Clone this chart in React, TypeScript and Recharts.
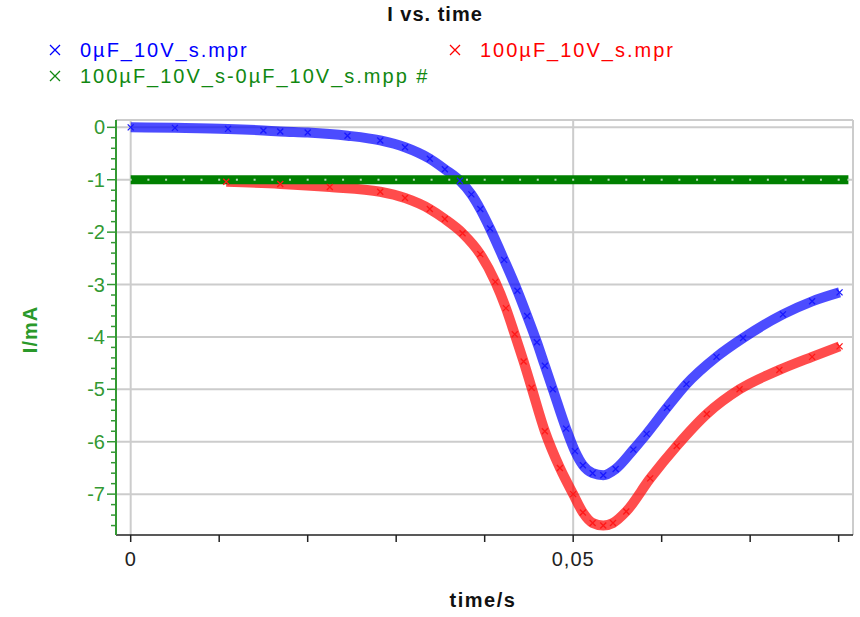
import React from 'react'
import { LineChart, Line, XAxis, YAxis, ReferenceLine } from 'recharts'

// time/s, I/mA
const blueSeries: [number, number][] = [
  [0, 0.0], [0.005, -0.01], [0.011, -0.03], [0.015, -0.06], [0.0169, -0.08], [0.02, -0.1],
  [0.0245, -0.16], [0.0282, -0.25], [0.031, -0.38], [0.0338, -0.6], [0.0355, -0.8],
  [0.0372, -1.02], [0.0385, -1.28], [0.0395, -1.56], [0.0406, -1.93], [0.0422, -2.53],
  [0.0437, -3.12], [0.0448, -3.6], [0.0459, -4.1], [0.0468, -4.55], [0.0477, -5.0],
  [0.0492, -5.75], [0.0502, -6.18], [0.0511, -6.45], [0.0522, -6.6], [0.0534, -6.64],
  [0.0548, -6.52], [0.0568, -6.15], [0.0583, -5.85], [0.0606, -5.35], [0.0628, -4.9],
  [0.0662, -4.38], [0.0692, -4.02], [0.0737, -3.57], [0.077, -3.32], [0.0801, -3.15],
]

const redSeries: [number, number][] = [
  [0.0108, -1.04], [0.0169, -1.08], [0.0225, -1.14], [0.0282, -1.23], [0.031, -1.35],
  [0.0338, -1.56], [0.0355, -1.75], [0.0375, -2.02], [0.0395, -2.42], [0.0412, -2.95],
  [0.0424, -3.45], [0.0434, -3.95], [0.0444, -4.47], [0.0453, -4.97], [0.0468, -5.8],
  [0.0485, -6.5], [0.05, -7.0], [0.0511, -7.35], [0.0522, -7.55], [0.0534, -7.6],
  [0.0545, -7.55], [0.056, -7.33], [0.0587, -6.7], [0.0617, -6.08], [0.0651, -5.47],
  [0.0688, -5.0], [0.0733, -4.63], [0.077, -4.38], [0.0801, -4.18],
]

const diffSeries: [number, number][] = [
  [0, -1], [0.002, -1], [0.004, -1], [0.006, -1], [0.008, -1], [0.01, -1], [0.012, -1],
  [0.014, -1], [0.016, -1], [0.018, -1], [0.02, -1], [0.022, -1], [0.024, -1], [0.026, -1],
  [0.028, -1], [0.03, -1], [0.032, -1], [0.034, -1], [0.036, -1], [0.038, -1], [0.04, -1],
  [0.042, -1], [0.044, -1], [0.046, -1], [0.048, -1], [0.05, -1], [0.052, -1], [0.054, -1],
  [0.056, -1], [0.058, -1], [0.06, -1], [0.062, -1], [0.064, -1], [0.066, -1], [0.068, -1],
  [0.07, -1], [0.072, -1], [0.074, -1], [0.076, -1], [0.078, -1], [0.08, -1], [0.0811, -1],
]

const timeTicks = [0, 0.01, 0.02, 0.03, 0.04, 0.05, 0.06, 0.07, 0.08]
const timeLabels: Record<string, string> = { '0': '0', '0.05': '0,05' }
const currentGrid = [0, -1, -2, -3, -4, -5, -6, -7]
const currentTicks = Array.from({ length: 39 }, (_, i) => -Math.round(i * 2) / 10)

const X_DOMAIN: [number, number] = [-0.00166, 0.08162]
const Y_DOMAIN: [number, number] = [-7.78, 0.14]

const FONT = '"Liberation Sans", Arial, sans-serif'
const GRID = '#cccccc'
const AXIS_GREEN = '#339933'

const rows = (pts: [number, number][]) => pts.map(([t, v]) => ({ t, v }))

const crossDot = (color: string, r: number) => (p: any) => {
  const { cx, cy, index } = p
  if (cx == null || cy == null) return <g key={index} />
  return (
    <path
      key={index}
      d={`M${cx - r},${cy - r}L${cx + r},${cy + r}M${cx - r},${cy + r}L${cx + r},${cy - r}`}
      stroke={color}
      strokeWidth={1.3}
    />
  )
}

const lightDot = (p: any) => {
  const { cx, cy, index } = p
  if (cx == null || cy == null) return <g key={index} />
  return <rect key={index} x={cx - 1} y={cy - 1} width={2} height={2} fill="#b8d8b8" />
}

const YTick = (p: any) => {
  const { x, y, payload } = p
  const major = Math.abs(payload.value - Math.round(payload.value)) < 1e-6
  return (
    <g>
      <line x1={x - (major ? 9 : 5)} x2={x} y1={y} y2={y} stroke={AXIS_GREEN} strokeWidth={1.5} />
      {major && (
        <text x={x - 11} y={y + 7} textAnchor="end" fill={AXIS_GREEN} fontSize={20} fontFamily={FONT}>
          {Math.round(payload.value)}
        </text>
      )}
    </g>
  )
}

const XTick = (p: any) => {
  const { x, y, payload } = p
  const label = timeLabels[String(payload.value)]
  return (
    <g>
      <line x1={x} x2={x} y1={y} y2={y + 7} stroke="#222" strokeWidth={1.5} />
      {label && (
        <text x={x} y={y + 31} textAnchor="middle" fill="#222" fontSize={20} fontFamily={FONT} letterSpacing={1}>
          {label}
        </text>
      )}
    </g>
  )
}

const LegendMark = ({ color }: { color: string }) => (
  <svg width={14} height={14} style={{ position: 'absolute', left: 0, top: 4 }}>
    <path d="M2,2L12,12M2,12L12,2" stroke={color} strokeWidth={1.3} />
  </svg>
)

const legendItems = [
  { name: '0µF_10V_s.mpr', color: '#0000ff', x: 48, y: 39 },
  { name: '100µF_10V_s.mpr', color: '#ff0000', x: 448, y: 39 },
  { name: '100µF_10V_s-0µF_10V_s.mpp #', color: '#118811', x: 48, y: 65 },
]

export default function App() {
  return (
    <div style={{ position: 'absolute', left: 0, top: 0, width: 860, height: 617, background: '#fff', fontFamily: FONT }}>
      <div style={{ position: 'absolute', left: 385, width: 100, top: 3, textAlign: 'center', fontWeight: 'bold', fontSize: 20, color: '#111', letterSpacing: 1, whiteSpace: 'nowrap' }}>
        I vs. time
      </div>
      {legendItems.map(it => (
        <div key={it.name} style={{ position: 'absolute', left: it.x, top: it.y, height: 22, paddingLeft: 32, color: it.color, fontSize: 20, letterSpacing: 2, whiteSpace: 'nowrap' }}>
          <LegendMark color={it.color} />
          {it.name}
        </div>
      ))}
      <div style={{ position: 'absolute', left: 0, top: 318, width: 60, textAlign: 'center', transform: 'rotate(-90deg)', fontWeight: 'bold', fontSize: 20, color: '#2a992a', letterSpacing: 1 }}>
        I/mA
      </div>
      <div style={{ position: 'absolute', left: 433, width: 100, top: 589, textAlign: 'center', fontWeight: 'bold', fontSize: 20, color: '#111', letterSpacing: 1.5, whiteSpace: 'nowrap' }}>
        time/s
      </div>
      <LineChart width={860} height={617} margin={{ top: 120, right: 7, bottom: 52, left: 76 }}>
        {currentGrid.map(v => (
          <ReferenceLine key={v} y={v} stroke={GRID} strokeWidth={2} />
        ))}
        <ReferenceLine y={Y_DOMAIN[1]} stroke={GRID} strokeWidth={2} />
        <ReferenceLine x={0} stroke={GRID} strokeWidth={2} />
        <ReferenceLine x={0.05} stroke={GRID} strokeWidth={2} />
        <ReferenceLine x={X_DOMAIN[1]} stroke={GRID} strokeWidth={2} />
        <XAxis
          type="number"
          dataKey="t"
          domain={X_DOMAIN}
          ticks={timeTicks}
          allowDataOverflow
          height={30}
          tickSize={0}
          tickMargin={0}
          tickLine={false}
          axisLine={{ stroke: '#222', strokeWidth: 1.5 }}
          tick={<XTick />}
          interval={0}
        />
        <YAxis
          type="number"
          dataKey="v"
          domain={Y_DOMAIN}
          ticks={currentTicks.filter(v => v >= Y_DOMAIN[0])}
          allowDataOverflow
          width={40}
          tickSize={0}
          tickMargin={0}
          tickLine={false}
          axisLine={{ stroke: AXIS_GREEN, strokeWidth: 2 }}
          tick={<YTick />}
          interval={0}
        />
        <Line
          data={rows(blueSeries)}
          dataKey="v"
          type="monotone"
          stroke="#0000ff"
          strokeOpacity={0.7}
          strokeWidth={10}
          dot={crossDot('#1818ff', 3)}
          isAnimationActive={false}
        />
        <Line
          data={rows(redSeries)}
          dataKey="v"
          type="monotone"
          stroke="#ff0000"
          strokeOpacity={0.7}
          strokeWidth={10}
          dot={crossDot('#ff1818', 3)}
          isAnimationActive={false}
        />
        <Line
          data={rows(diffSeries)}
          dataKey="v"
          type="linear"
          stroke="#008000"
          strokeWidth={9}
          dot={lightDot}
          isAnimationActive={false}
        />
      </LineChart>
    </div>
  )
}
